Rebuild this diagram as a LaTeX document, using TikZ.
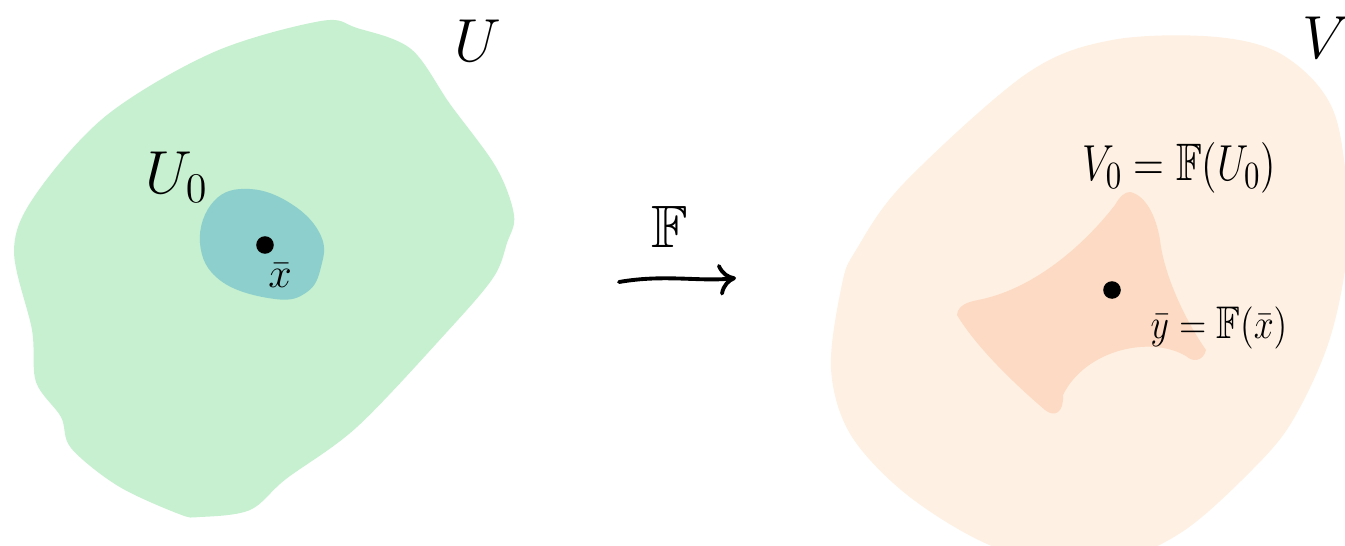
\documentclass[tikz,border=0pt]{standalone}
\usepackage{amssymb}
\usepackage{graphicx}
\usetikzlibrary{arrows.meta}
\definecolor{greenblob}{HTML}{C6F0CF}
\definecolor{tealblob}{HTML}{8DCFCC}
\definecolor{orangeout}{HTML}{FEF0E2}
\definecolor{orangein}{HTML}{FDDAC3}
\tikzset{
  lbl/.style={inner sep=0pt, font=\fontsize{17}{20}\selectfont},
  midlbl/.style={inner sep=0pt, font=\fontsize{15}{18}\selectfont},
  smalllbl/.style={inner sep=0pt, font=\fontsize{13}{16}\selectfont},
  pt/.style={circle, fill=black, inner sep=0pt, minimum size=5pt},
  maparrow/.style={line width=1.1pt, line cap=round, -{To[length=5pt,width=9pt]}}
}
\begin{document}
\begin{tikzpicture}[x=0.01cm,y=-0.01cm]
\useasboundingbox (0,0) rectangle (1345,545);
\clip (0,0) rectangle (1345,545);
% U (green)
\fill[greenblob] plot[smooth cycle, tension=0.55] coordinates {
(321,21) (214,52) (107,115) (36,194) (14,250) (32,330) (36,382) (61,417) (71,448)
(118,486) (179,514) (200,517) (250,510) (286,479) (357,427) (446,333) (493,278)
(507,243) (514,215) (496,167) (450,104) (411,49) (357,28)};
% U0 (teal)
\fill[tealblob] plot[smooth cycle, tension=0.7] coordinates {
(200,243) (214,201) (250,189) (293,205) (321,236) (321,267) (307,292) (275,299) (221,281)};
% V (orange)
\fill[orangeout] plot[smooth cycle, tension=0.55] coordinates {
(1217,37) (1286,57) (1335,115) (1348,233) (1331,335) (1293,420) (1251,471) (1182,532)
(1112,560) (1008,552) (915,501) (852,437) (831,369) (842,284) (856,250) (904,183)
(1026,74) (1112,40)};
% V0 (inner)
\fill[orangein] (1130,192) .. controls (1145,195) and (1156,215) .. (1160,240)
  .. controls (1164,275) and (1185,320) .. (1206,350)
  .. controls (1203,362) and (1192,362) .. (1186,356)
  .. controls (1150,335) and (1085,350) .. (1063,395)
  .. controls (1064,412) and (1055,418) .. (1045,410)
  .. controls (1010,380) and (975,345) .. (957,315)
  .. controls (958,305) and (968,302) .. (978,300)
  .. controls (1030,290) and (1080,250) .. (1115,205)
  .. controls (1120,196) and (1125,192) .. (1130,192) -- cycle;
% labels left
\node[lbl] (labU) at (478,41) {$U$};
\node[lbl] (labUo) at (177,177) {$U_0$};
\node[pt] (xbar) at (265,245) {};
\node[smalllbl] (labx) at (280,276) {$\bar{x}$};
% map arrow
\coordinate (arrS) at (619,282);
\coordinate (arrE) at (736,278);
\draw[maparrow] (arrS) .. controls (665,274) and (700,282) .. (arrE);
\node[lbl] (labF) at (670,227) {$\mathbb{F}$};
% labels right
\node[lbl] (labV) at (1326,38) {$V$};
\node[midlbl, anchor=west] (labVo) at (1082,168) {\scalebox{0.8}[1]{$V_0=\mathbb{F}(U_0)$}};
\node[pt] (ybar) at (1112,290) {};
\node[smalllbl, anchor=west] (laby) at (1150,328) {\scalebox{0.85}[1]{$\bar{y}=\mathbb{F}(\bar{x})$}};
\end{tikzpicture}
\end{document}
